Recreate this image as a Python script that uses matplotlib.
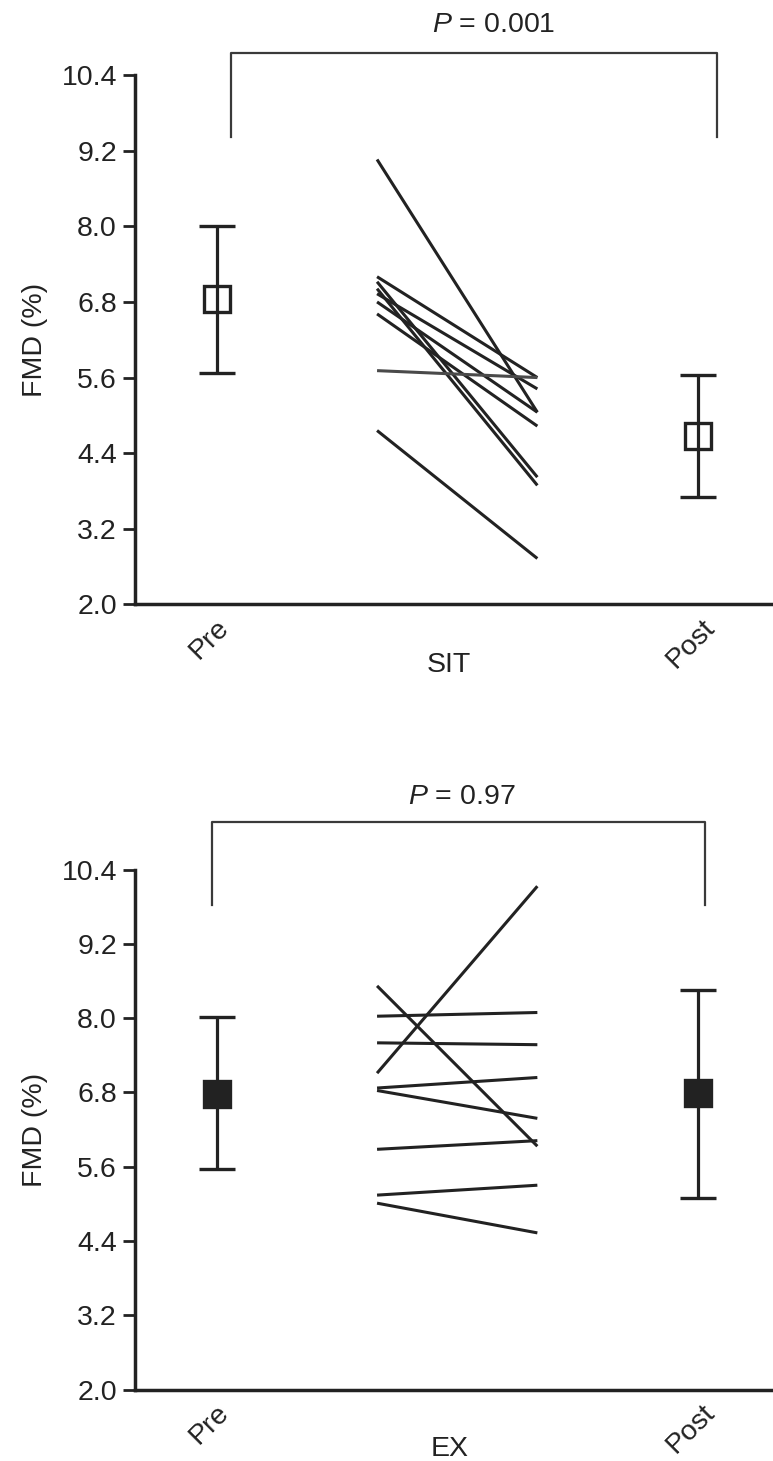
import matplotlib
matplotlib.use("Agg")
import matplotlib.pyplot as plt
from matplotlib.lines import Line2D
import matplotlib.transforms as mtransforms

plt.rcParams['font.family'] = ['Liberation Sans', 'DejaVu Sans']
plt.rcParams['mathtext.fontset'] = 'custom'
plt.rcParams['mathtext.it'] = 'Liberation Sans:italic'
plt.rcParams['mathtext.rm'] = 'Liberation Sans'

# ---------------- data ----------------
ticks = [2.0, 3.2, 4.4, 5.6, 6.8, 8.0, 9.2, 10.4]
tick_labels = ['2.0', '3.2', '4.4', '5.6', '6.8', '8.0', '9.2', '10.4']
time_labels = ['Pre', 'Post']

# SIT group: individual pre/post values
sit_pre = [7.20, 7.12, 7.01, 6.93, 6.80, 6.61, 9.06, 5.71, 4.76]
sit_post = [5.60, 4.02, 3.89, 5.42, 5.05, 4.83, 5.05, 5.60, 2.73]
sit_mean = [6.84, 4.67]
sit_upper = [8.00, 5.64]
sit_lower = [5.67, 3.70]
sit_p = '0.001'

# EX group: individual pre/post values
ex_pre = [7.11, 8.52, 8.03, 7.60, 6.87, 6.83, 5.88, 5.14, 5.01]
ex_post = [10.13, 5.93, 8.09, 7.57, 7.04, 6.38, 6.02, 5.30, 4.53]
ex_mean = [6.77, 6.79]
ex_upper = [8.01, 8.45]
ex_lower = [5.56, 5.10]
ex_p = '0.97'

W, H = 773, 1461
fig = plt.figure(figsize=(W / 100, H / 100), dpi=100)

DARK = '#222222'
FS = 20.5


def px_line(xs, ys, **kw):
    fig.add_artist(Line2D([x / W for x in xs], [1 - y / H for y in ys],
                          transform=fig.transFigure, **kw))


def panel(top_px, bot_px, pre, post, mean, upper, lower, filled, group,
          grey_idx=None):
    ax = fig.add_axes([135 / W, 1 - bot_px / H, (W - 135) / W,
                       (bot_px - top_px) / H])
    ax.set_ylim(2.0, 10.4)
    ax.set_xlim(-0.51, 3.47)
    for s in ['top', 'right']:
        ax.spines[s].set_visible(False)
    for s in ['left', 'bottom']:
        ax.spines[s].set_linewidth(2.5)
        ax.spines[s].set_color(DARK)
    ax.set_yticks(ticks)
    ax.set_yticklabels(tick_labels)
    ax.tick_params(axis='y', direction='out', length=9, width=2.0,
                   labelsize=FS, pad=4, colors=DARK)
    ax.set_xticks([0, 3])
    ax.set_xticklabels(time_labels, rotation=45, ha='center', va='top',
                       fontsize=FS, color=DARK)
    ax.tick_params(axis='x', length=0, pad=7)
    offset = mtransforms.ScaledTranslation(-7 / 100, 0, fig.dpi_scale_trans)
    for lab in ax.get_xticklabels():
        lab.set_transform(lab.get_transform() + offset)

    # individual lines
    for i, (a, b) in enumerate(zip(pre, post)):
        col = '#4a4a4a' if i == grey_idx else DARK
        ax.plot([1, 2], [a, b], color=col, lw=2.2, solid_capstyle='butt')

    # mean +/- error
    yerr = [[m - lo for m, lo in zip(mean, lower)],
            [hi - m for m, hi in zip(mean, upper)]]
    ax.errorbar([0, 3], mean, yerr=yerr, fmt='s', color=DARK, ecolor=DARK,
                elinewidth=2.3, capsize=13, capthick=2.3, markersize=19,
                markeredgewidth=2.4, markeredgecolor=DARK,
                markerfacecolor=(DARK if filled else 'none'))

    ax.set_ylabel('FMD (%)', fontsize=FS, color=DARK, labelpad=10)
    ax.text(1.45, -0.115, group, transform=ax.get_xaxis_transform(),
            ha='center', va='center', fontsize=FS, color=DARK)
    return ax


panel(75, 604.5, sit_pre, sit_post, sit_mean, sit_upper, sit_lower,
      False, 'SIT', grey_idx=7)
panel(869.5, 1389.5, ex_pre, ex_post, ex_mean, ex_upper, ex_lower,
      True, 'EX')

# significance brackets
px_line([231, 231, 717, 717], [137, 53, 53, 137], color='#3a3a3a', lw=1.6)
fig.text(494 / W, 1 - 25 / H, r'$P$ = ' + sit_p, ha='center', va='center',
         fontsize=FS, color=DARK)
px_line([212, 212, 705, 705], [905, 822, 822, 905], color='#3a3a3a', lw=1.6)
fig.text(462 / W, 1 - 797 / H, r'$P$ = ' + ex_p, ha='center', va='center',
         fontsize=FS, color=DARK)

fig.savefig('out.png', dpi=100)
